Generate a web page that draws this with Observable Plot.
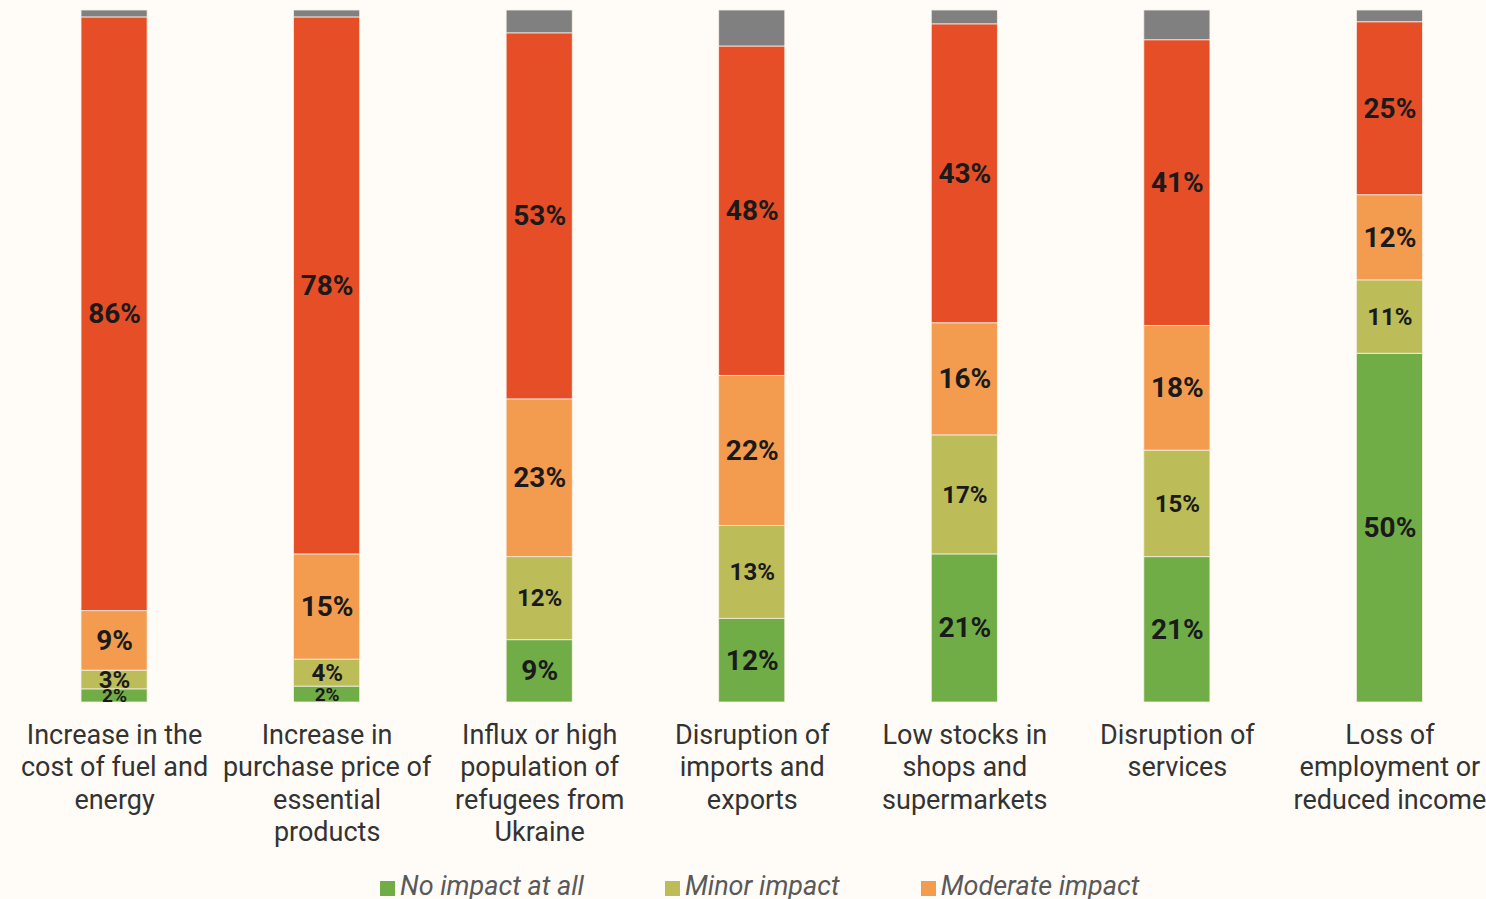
<!DOCTYPE html>
<html><head><meta charset="utf-8">
<script src="https://cdn.jsdelivr.net/npm/d3@7"></script>
<script src="https://cdn.jsdelivr.net/npm/@observablehq/plot@0.6"></script>
<style>
html,body{margin:0;padding:0;background:#fffcf7;}
body{width:1486px;height:899px;overflow:hidden;font-family:Roboto,sans-serif;}
#legend{display:flex;flex-wrap:wrap;width:1100px;padding-left:380px;margin-top:11px;row-gap:6px;}
.item{display:flex;align-items:center;margin-right:81px;font-style:italic;font-size:27px;color:#595959;line-height:30px;}
.sw{width:15px;height:15px;margin-right:5px;margin-top:4px;}
</style></head><body><div id="chart"></div><div id="legend"></div>
<script>
const categories = [
  "Increase in the\ncost of fuel and\nenergy",
  "Increase in\npurchase price of\nessential\nproducts",
  "Influx or high\npopulation of\nrefugees from\nUkraine",
  "Disruption of\nimports and\nexports",
  "Low stocks in\nshops and\nsupermarkets",
  "Disruption of\nservices",
  "Loss of\nemployment or\nreduced income"
];
const series = ["No impact at all", "Minor impact", "Moderate impact", "Significant impact", "Don't know"];
const noImpact = [1.9, 2.3, 9.0, 12.1, 21.4, 21.0, 50.4];
const minorImpact = [2.7, 3.9, 12.0, 13.4, 17.2, 15.4, 10.6];
const moderateImpact = [8.6, 15.2, 22.8, 21.7, 16.2, 18.0, 12.3];
const significantImpact = [85.8, 77.6, 52.9, 47.6, 43.2, 41.3, 25.0];
const dontKnow = [1.0, 1.0, 3.3, 5.2, 2.0, 4.3, 1.7];
const colors = ["#70ad47", "#bcbc58", "#f39c4f", "#e54e27", "#808080"];

const seriesValues = [noImpact, minorImpact, moderateImpact, significantImpact, dontKnow];
const data = [];
categories.forEach((c, i) => {
  seriesValues.forEach((vals, s) => {
    data.push({category: c, series: series[s], si: s, value: vals[i]});
  });
});
const labeled = data.filter(d => d.si < 4);

const chart = Plot.plot({
  width: 1486,
  height: 860,
  marginTop: 10,
  marginBottom: 158,
  marginLeft: 8,
  marginRight: 0,
  style: {background: "#fffcf7", fontFamily: "Roboto, sans-serif"},
  x: {domain: categories, range: [8, 1495.5], round: false, paddingInner: 0.689, paddingOuter: 0.3435, label: null},
  y: {domain: [0, 100], axis: null},
  color: {domain: series, range: colors},
  marks: [
    Plot.ruleY([0, 50, 100], {stroke: "#d9d9d9", strokeWidth: 2, x1: 8, x2: 1486}),
    Plot.barY(data, Plot.stackY({
      x: "category", y: "value", fill: "series", order: series,
      stroke: "#f7efe4", strokeWidth: 0.8
    })),
    Plot.text(labeled, Plot.stackY({
      x: "category", y: "value", z: "series", order: series,
      text: d => Math.round(d.value) + "%",
      fontSize: d => d.si === 1 ? 24 : (d.value < 3 ? 19 : 28),
      fontWeight: "bold", fill: "#1a1a1a"
    })),
    Plot.axisX({
      tickSize: 0, tickPadding: 19, fontSize: 27, lineHeight: 1.19,
      fill: "#333333", label: null
    })
  ]
});
document.getElementById("chart").appendChild(chart);

const legend = document.getElementById("legend");
series.forEach((s, i) => {
  const it = document.createElement("div");
  it.className = "item";
  const sw = document.createElement("span");
  sw.className = "sw";
  sw.style.background = colors[i];
  it.appendChild(sw);
  it.appendChild(document.createTextNode(s));
  legend.appendChild(it);
  if (i === 2) {
    const br = document.createElement("div");
    br.style.flexBasis = "100%";
    legend.appendChild(br);
  }
});
</script></body></html>
